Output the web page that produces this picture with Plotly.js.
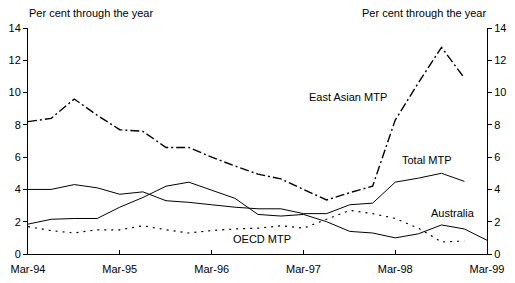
<!DOCTYPE html>
<html>
<head>
<meta charset="utf-8">
<script src="https://cdn.plot.ly/plotly-3.0.1.min.js"></script>
<style>
  html, body { margin: 0; padding: 0; background: #fff; }
  #chart { width: 515px; height: 283px; }
</style>
</head>
<body>
<div id="chart"></div>
<script>
// quarterly, Mar-94 .. Mar-99
const quarters = [
  "1994-03-01", "1994-06-01", "1994-09-01", "1994-12-01",
  "1995-03-01", "1995-06-01", "1995-09-01", "1995-12-01",
  "1996-03-01", "1996-06-01", "1996-09-01", "1996-12-01",
  "1997-03-01", "1997-06-01", "1997-09-01", "1997-12-01",
  "1998-03-01", "1998-06-01", "1998-09-01", "1998-12-01",
  "1999-03-01",
];

const eastAsianMtp = [8.2, 8.4, 9.6, 8.6, 7.7, 7.6, 6.6, 6.6, 6.0, 5.45, 4.95, 4.65, 4.0, 3.35, 3.8, 4.2, 8.3, 10.6, 12.8, 10.9, null];
const totalMtp = [4.0, 4.0, 4.3, 4.1, 3.7, 3.85, 3.3, 3.2, 3.05, 2.9, 2.8, 2.8, 2.5, 2.5, 3.05, 3.15, 4.45, 4.7, 5.0, 4.5, null];
const australia = [1.85, 2.15, 2.2, 2.2, 2.9, 3.5, 4.2, 4.45, 3.95, 3.45, 2.45, 2.35, 2.45, 2.0, 1.4, 1.3, 1.0, 1.25, 1.8, 1.55, 0.85];
const oecdMtp = [1.7, 1.45, 1.3, 1.5, 1.5, 1.75, 1.5, 1.3, 1.45, 1.55, 1.6, 1.75, 1.6, 2.15, 2.7, 2.5, 2.2, 1.6, 0.75, 0.8, null];

const yTicks = [0, 2, 4, 6, 8, 10, 12, 14];
const yTitle = "Per cent through the year";

const font = { family: "Arial, 'Liberation Sans', sans-serif", size: 11, color: "#000" };

function line(y, name, dash, width) {
  return {
    x: quarters, y: y, name: name, type: "scatter", mode: "lines",
    line: { color: "#000", width: width, dash: dash },
    connectgaps: false, hoverinfo: "skip",
  };
}

const traces = [
  line(eastAsianMtp, "East Asian MTP", "9px,3px,2px,3px", 1.4),
  line(totalMtp, "Total MTP", "solid", 1),
  line(australia, "Australia", "solid", 1),
  line(oecdMtp, "OECD MTP", "2px,5px", 1.2),
  // dummy trace so the right-hand axis is drawn
  { x: quarters, y: australia, yaxis: "y2", type: "scatter", mode: "lines",
    line: { width: 0, color: "rgba(0,0,0,0)" }, hoverinfo: "skip", showlegend: false },
];

const yAxisBase = {
  range: [0, 14],
  tickvals: yTicks,
  showgrid: false,
  zeroline: false,
  showline: true,
  linecolor: "#000",
  linewidth: 1,
  ticks: "outside",
  ticklen: 4,
  tickcolor: "#000",
  tickfont: font,
  fixedrange: true,
};

const layout = {
  width: 515,
  height: 283,
  margin: { l: 28, r: 28, t: 28, b: 29 },
  paper_bgcolor: "#fff",
  plot_bgcolor: "#fff",
  showlegend: false,
  font: font,
  xaxis: {
    type: "date",
    range: ["1994-03-01", "1999-03-01"],
    tick0: "1994-03-01",
    dtick: "M12",
    tickformat: "%b-%y",
    showgrid: false,
    zeroline: false,
    showline: true,
    linecolor: "#000",
    linewidth: 1,
    ticks: "inside",
    ticklen: 4,
    tickcolor: "#000",
    tickfont: font,
    ticklabelstandoff: 5,
    fixedrange: true,
  },
  yaxis: Object.assign({}, yAxisBase, { side: "left" }),
  yaxis2: Object.assign({}, yAxisBase, { side: "right", overlaying: "y" }),
  annotations: [
    { xref: "paper", yref: "paper", x: -0.002, y: 1, yshift: 7, xanchor: "left", yanchor: "bottom",
      text: yTitle, showarrow: false, font: font },
    { xref: "paper", yref: "paper", x: 1.002, y: 1, yshift: 7, xanchor: "right", yanchor: "bottom",
      text: yTitle, showarrow: false, font: font },
    { x: "1997-08-25", y: 9.7, text: "East Asian MTP", showarrow: false, font: font },
    { x: "1998-07-05", y: 5.8, text: "Total MTP", showarrow: false, font: font },
    { x: "1998-10-15", y: 2.55, text: "Australia", showarrow: false, font: font },
    { x: "1996-09-15", y: 0.9, text: "OECD MTP", showarrow: false, font: font },
  ],
};

Plotly.newPlot("chart", traces, layout, { staticPlot: true, displayModeBar: false });
</script>
</body>
</html>
